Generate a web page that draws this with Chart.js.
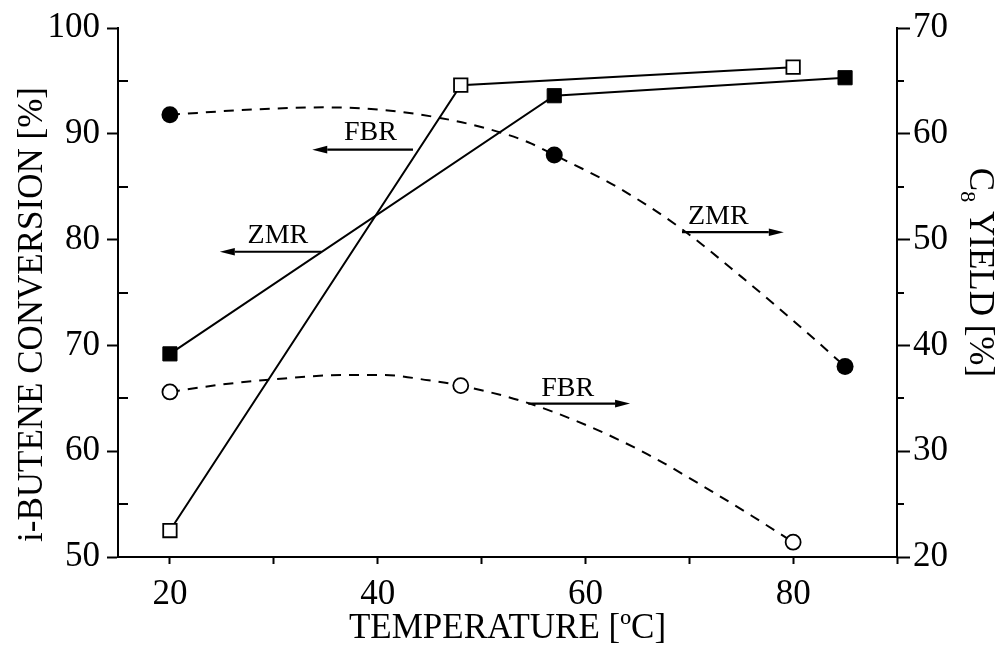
<!DOCTYPE html>
<html>
<head>
<meta charset="utf-8">
<script src="https://cdn.jsdelivr.net/npm/chart.js@4/dist/chart.umd.min.js"></script>
<style>
html,body{margin:0;padding:0;background:#fff;}
#wrap{width:997px;height:646px;position:relative;}
</style>
</head>
<body>
<div id="wrap"><canvas id="c" width="997" height="646"></canvas></div>
<script>
// ---- data ----
// i-butene conversion (left axis)
const tempZMRConv = [20, 57, 85];
const convZMR     = [69.2, 93.6, 95.3];
const tempFBRConv = [20, 48, 80];
const convFBR     = [52.5, 94.6, 96.3];
// C8 yield (right axis)
const tempZMRYield = [20, 57, 85];
const yieldZMR     = [61.8, 58.0, 38.0];
const tempFBRYield = [20, 48, 80];
const yieldFBR     = [35.6, 36.2, 21.4];
// dashed trend curves
const curveZMRTemp  = [20, 28, 35, 41, 46, 50.5, 54.5, 57, 63, 69, 75, 81, 85];
const curveZMRYield = [61.8, 62.3, 62.5, 62.2, 61.5, 60.5, 59.2, 58.0, 55.0, 51.2, 46.5, 41.5, 38.0];
const curveFBRTemp  = [20, 25, 30, 36.8, 40.6, 44.9, 48, 54, 60, 66, 72, 76, 80];
const curveFBRYield = [35.6, 36.3, 36.8, 37.2, 37.2, 36.7, 36.2, 34.7, 32.5, 29.7, 26.3, 23.9, 21.4];
// ticks and tick labels
const xTickValues  = [20, 30, 40, 50, 60, 70, 80, 90];
const xTickLabels  = [20, 40, 60, 80];
const yTickLabels  = [50, 60, 70, 80, 90, 100];
const y1TickLabels = [20, 30, 40, 50, 60, 70];
// arrow annotations (data units)
const annoText     = ['FBR', 'ZMR', 'ZMR', 'FBR'];
const annoAxis     = ['y', 'y', 'y1', 'y1'];
const annoTextX    = [39.3, 30.4, 72.8, 58.3];
const annoTextBase = [89.4, 79.7, 51.5, 35.2];
const arrowY       = [88.5, 78.85, 50.7, 34.5];
const arrowFromX   = [43.4, 34.6, 69.3, 54.5];
const arrowToX     = [33.7, 24.8, 79.1, 64.3];

const FONT = '"Liberation Serif", "Times New Roman", serif';
Chart.defaults.font.family = FONT;
Chart.defaults.color = '#000';

const pts = (xs, ys) => xs.map((x, i) => ({x: x, y: ys[i]}));

const deco = {
  id: 'deco',
  afterDraw(chart) {
    const ctx = chart.ctx, ca = chart.chartArea;
    const sx = chart.scales.x, sy = chart.scales.y, sy1 = chart.scales.y1;
    ctx.save();
    ctx.strokeStyle = '#000'; ctx.fillStyle = '#000'; ctx.lineWidth = 2;
    const seg = (x1, y1, x2, y2) => { ctx.beginPath(); ctx.moveTo(x1, y1); ctx.lineTo(x2, y2); ctx.stroke(); };
    // minor ticks
    for (let v = 55; v < 100; v += 10) { const p = Math.round(sy.getPixelForValue(v)); seg(ca.left, p, ca.left + 10, p); }
    for (let v = 25; v < 70; v += 10) { const p = Math.round(sy1.getPixelForValue(v)); seg(ca.right, p, ca.right + 7, p); }
    // left title
    ctx.font = '35px ' + FONT;
    ctx.save();
    ctx.translate(42, (ca.top + ca.bottom) / 2 + 22);
    ctx.rotate(-Math.PI / 2);
    ctx.textAlign = 'center'; ctx.textBaseline = 'alphabetic';
    ctx.fillText('i-BUTENE CONVERSION [%]', 0, 0);
    ctx.restore();
    // right title with subscript
    ctx.save();
    ctx.translate(970, (ca.top + ca.bottom) / 2 - 20);
    ctx.rotate(Math.PI / 2);
    ctx.textAlign = 'left'; ctx.textBaseline = 'alphabetic';
    ctx.font = '35px ' + FONT; const wC = ctx.measureText('C').width; const wR = ctx.measureText(' YIELD [%]').width;
    ctx.font = '22px ' + FONT; const w8 = ctx.measureText('8').width;
    const start = -(wC + w8 + wR) / 2;
    ctx.font = '35px ' + FONT; ctx.fillText('C', start, 0);
    ctx.font = '22px ' + FONT; ctx.fillText('8', start + wC, 9);
    ctx.font = '35px ' + FONT; ctx.fillText(' YIELD [%]', start + wC + w8, 0);
    ctx.restore();
    // annotations
    ctx.font = '28px ' + FONT; ctx.textAlign = 'center'; ctx.textBaseline = 'alphabetic';
    ctx.lineWidth = 2.2;
    for (let i = 0; i < annoText.length; i++) {
      const s = annoAxis[i] === 'y' ? sy : sy1;
      ctx.fillText(annoText[i], sx.getPixelForValue(annoTextX[i]), s.getPixelForValue(annoTextBase[i]));
      const ay = s.getPixelForValue(arrowY[i]);
      const x1 = sx.getPixelForValue(arrowFromX[i]), x2 = sx.getPixelForValue(arrowToX[i]);
      const dir = x2 > x1 ? 1 : -1, hl = 15, hw = 3.8;
      seg(x1, ay, x2 - dir * hl, ay);
      ctx.beginPath(); ctx.moveTo(x2, ay); ctx.lineTo(x2 - dir * hl, ay - hw); ctx.lineTo(x2 - dir * hl, ay + hw); ctx.closePath(); ctx.fill();
    }
    ctx.restore();
  }
};

const majorColor = (list) => (c) => (c.tick && list.includes(c.tick.value)) ? '#000' : 'rgba(0,0,0,0)';

new Chart(document.getElementById('c'), {
  type: 'scatter',
  data: {
    datasets: [
      { label: 'ZMR conversion', data: pts(tempZMRConv, convZMR), yAxisID: 'y', showLine: true, tension: 0,
        borderColor: '#000', borderWidth: 2, pointStyle: 'rect', pointRadius: 10, pointBackgroundColor: '#000',
        pointBorderColor: '#000', pointBorderWidth: 1, order: 1 },
      { label: 'FBR conversion', data: pts(tempFBRConv, convFBR), yAxisID: 'y', showLine: true, tension: 0,
        borderColor: '#000', borderWidth: 2, pointStyle: 'rect', pointRadius: 9.5, pointBackgroundColor: '#fff',
        pointBorderColor: '#000', pointBorderWidth: 1.8, order: 1 },
      { label: 'ZMR yield', data: pts(tempZMRYield, yieldZMR), yAxisID: 'y1', showLine: false,
        pointStyle: 'circle', pointRadius: 8.5, pointBackgroundColor: '#000', pointBorderColor: '#000', pointBorderWidth: 0, order: 0 },
      { label: 'FBR yield', data: pts(tempFBRYield, yieldFBR), yAxisID: 'y1', showLine: false,
        pointStyle: 'circle', pointRadius: 7.5, pointBackgroundColor: '#fff', pointBorderColor: '#000', pointBorderWidth: 1.8, order: 0 },
      { label: 'ZMR yield fit', data: pts(curveZMRTemp, curveZMRYield), yAxisID: 'y1', showLine: true,
        cubicInterpolationMode: 'monotone',
        borderColor: '#000', borderWidth: 2, borderDash: [10, 8], pointRadius: 0, order: 5 },
      { label: 'FBR yield fit', data: pts(curveFBRTemp, curveFBRYield), yAxisID: 'y1', showLine: true,
        cubicInterpolationMode: 'monotone',
        borderColor: '#000', borderWidth: 2, borderDash: [10, 8], pointRadius: 0, order: 5 }
    ]
  },
  options: {
    responsive: false, animation: false, devicePixelRatio: 1,
    layout: { padding: { top: 25, left: 0, right: 0, bottom: 0 } },
    plugins: { legend: { display: false }, tooltip: { enabled: false } },
    scales: {
      x: {
        type: 'linear', position: 'bottom', min: 15, max: 90,
        afterBuildTicks: (s) => { s.ticks = xTickValues.map(v => ({ value: v })); },
        afterFit: (s) => { s.height = 89; },
        ticks: { autoSkip: false, maxRotation: 0, padding: 10, font: { size: 35 },
                 callback: (v) => xTickLabels.includes(v) ? String(v) : '' },
        grid: { drawOnChartArea: false, drawTicks: true, tickLength: 7, tickWidth: 2, tickColor: '#000' },
        border: { display: true, color: '#000', width: 2 },
        title: { display: true, text: 'TEMPERATURE [ºC]', font: { size: 35, lineHeight: 1 }, padding: 0, color: '#000' }
      },
      y: {
        type: 'linear', position: 'left', min: 50, max: 100,
        afterFit: (s) => { s.width = 118; },
        ticks: { stepSize: 5, autoSkip: false, padding: 7, font: { size: 35 },
                 callback: (v) => yTickLabels.includes(v) ? String(v) : '' },
        grid: { drawOnChartArea: false, drawTicks: true, tickLength: 11, tickWidth: 2, tickColor: majorColor(yTickLabels) },
        border: { display: true, color: '#000', width: 2 }
      },
      y1: {
        type: 'linear', position: 'right', min: 20, max: 70,
        afterFit: (s) => { s.width = 100; },
        ticks: { stepSize: 5, autoSkip: false, padding: 3, font: { size: 35 },
                 callback: (v) => y1TickLabels.includes(v) ? String(v) : '' },
        grid: { drawOnChartArea: false, drawTicks: true, tickLength: 13, tickWidth: 2, tickColor: majorColor(y1TickLabels) },
        border: { display: true, color: '#000', width: 2 }
      }
    }
  },
  plugins: [deco]
});
</script>
</body>
</html>
